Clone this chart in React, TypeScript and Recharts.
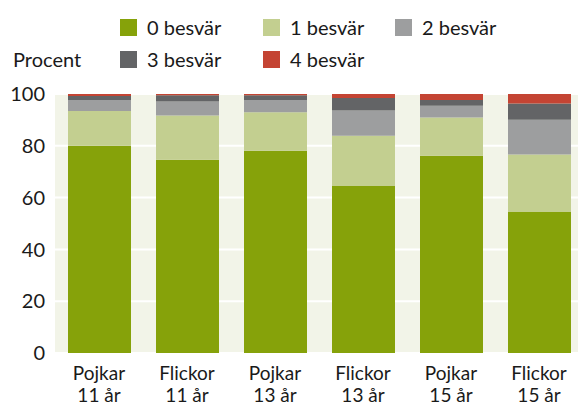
import React from "react";
import { BarChart, Bar, XAxis, YAxis, CartesianGrid, Legend } from "recharts";

const groups = ["Pojkar|11 år", "Flickor|11 år", "Pojkar|13 år", "Flickor|13 år", "Pojkar|15 år", "Flickor|15 år"];
const besvar0 = [80.0, 74.6, 78.1, 64.5, 76.2, 54.4];
const besvar1 = [13.4, 17.1, 14.9, 19.4, 14.7, 22.2];
const besvar2 = [4.3, 5.4, 4.7, 9.7, 4.6, 13.5];
const besvar3 = [1.5, 2.4, 1.8, 4.9, 2.2, 6.2];
const besvar4 = [0.8, 0.5, 0.5, 1.5, 2.3, 3.7];
const yTicks = [0, 20, 40, 60, 80, 100];

const series = [
  { key: "b0", name: "0 besvär", color: "#86a20a", values: besvar0 },
  { key: "b1", name: "1 besvär", color: "#c3cf90", values: besvar1 },
  { key: "b2", name: "2 besvär", color: "#9d9e9f", values: besvar2 },
  { key: "b3", name: "3 besvär", color: "#636466", values: besvar3 },
  { key: "b4", name: "4 besvär", color: "#c44433", values: besvar4 },
];

const data = groups.map((g, i) => {
  const row: Record<string, string | number> = { group: g };
  series.forEach((s) => (row[s.key] = s.values[i]));
  return row;
});

const font = "Lato, 'Open Sans', sans-serif";
const textColor = "#1a1a1a";

// legend slots: [x of swatch, baseline y]
const legendPos = [
  [120, 35],
  [263, 35],
  [395, 35],
  [120, 67],
  [263, 67],
];

function LegendBox() {
  return (
    <svg width={583} height={80} style={{ display: "block" }}>
      <text x={13} y={67} fontSize={20} fill={textColor} fontFamily={font}>
        Procent
      </text>
      {series.map((s, i) => (
        <g key={s.key}>
          <rect x={legendPos[i][0]} y={legendPos[i][1] - 16} width={17} height={17} fill={s.color} />
          <text x={legendPos[i][0] + 27} y={legendPos[i][1]} fontSize={20} fill={textColor} fontFamily={font}>
            {s.name}
          </text>
        </g>
      ))}
    </svg>
  );
}

function GroupTick(props: any) {
  const { x, y, payload } = props;
  const [a, b] = String(payload.value).split("|");
  return (
    <g>
      <text x={x} y={y + 19} textAnchor="middle" fontSize={19} fill={textColor} fontFamily={font}>
        {a}
      </text>
      <text x={x} y={y + 41} textAnchor="middle" fontSize={19} fill={textColor} fontFamily={font}>
        {b}
      </text>
    </g>
  );
}

export default function App() {
  return (
    <div style={{ position: "absolute", left: 0, top: 0, width: 578, height: 407, overflow: "hidden", background: "#fff" }}>
      <BarChart
        width={583}
        height={407}
        data={data}
        margin={{ top: 14, right: 0, bottom: 0, left: 0 }}
        barSize={63}
      >
        <CartesianGrid vertical={false} fill="#f2f4e8" stroke="#ffffff" strokeWidth={2} />
        <XAxis dataKey="group" axisLine={false} tickLine={false} height={54} tick={<GroupTick />} interval={0} />
        <YAxis
          domain={[0, 100]}
          ticks={yTicks}
          width={55}
          axisLine={false}
          tickLine={false}
          tickMargin={4}
          tick={{ fontSize: 20, fill: textColor, fontFamily: font }}
        />
        <Legend verticalAlign="top" wrapperStyle={{ top: 0, left: 0, width: 583, height: 80 }} content={() => <LegendBox />} />
        {series.map((s) => (
          <Bar key={s.key} dataKey={s.key} name={s.name} stackId="a" fill={s.color} isAnimationActive={false} />
        ))}
      </BarChart>
    </div>
  );
}
